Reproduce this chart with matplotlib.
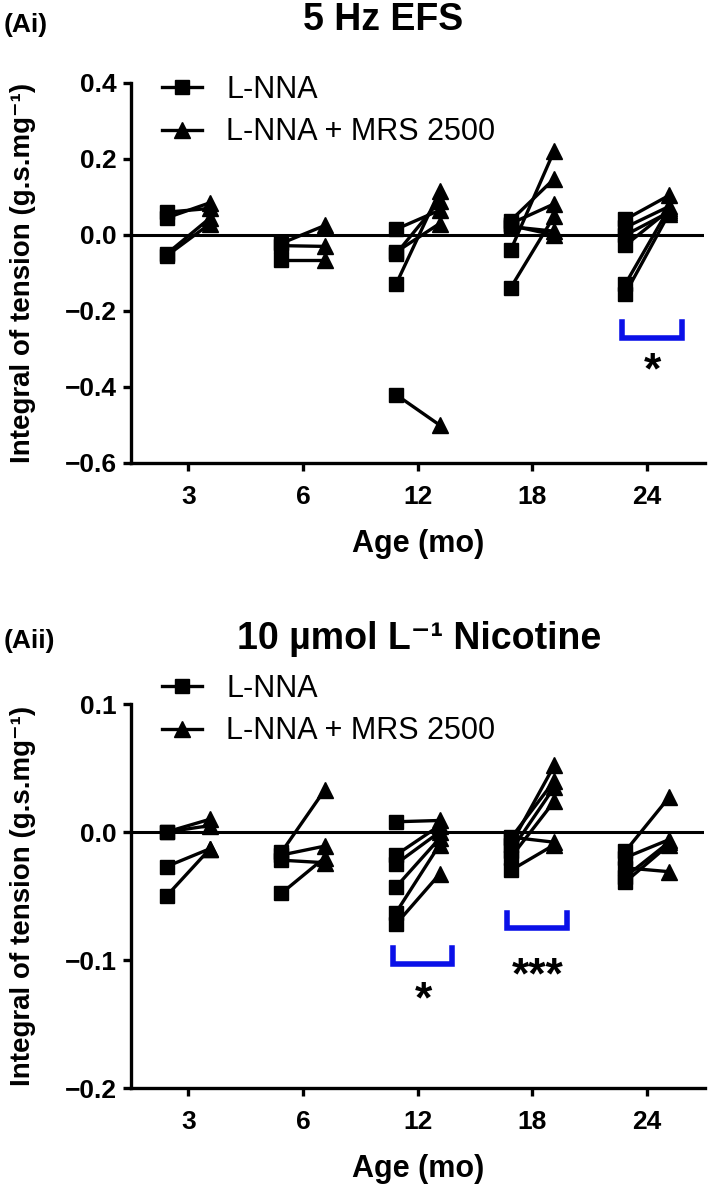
import matplotlib
matplotlib.use("Agg")
import matplotlib.pyplot as plt
from matplotlib.lines import Line2D

plt.rcParams['font.family'] = ['Liberation Sans', 'DejaVu Sans']

ages = ['3', '6', '12', '18', '24']

# 5 Hz EFS, one list per age, paired L-NNA / L-NNA + MRS 2500 values
efs_lnna = [
    [0.06, 0.045, -0.05, -0.055],
    [-0.022, -0.028, -0.065],
    [0.015, -0.045, -0.05, -0.13, -0.42],
    [0.038, 0.03, 0.022, 0.025, -0.04, -0.139],
    [0.041, 0.02, 0.0, -0.027, -0.129, -0.154],
]
efs_mrs = [
    [0.07, 0.085, 0.045, 0.03],
    [0.025, -0.03, -0.065],
    [0.065, 0.03, 0.09, 0.115, -0.5],
    [0.148, 0.082, 0.01, 0.0, 0.222, 0.05],
    [0.104, 0.075, 0.06, 0.065, 0.07, 0.056],
]

# 10 umol/L nicotine
nic_lnna = [
    [0.0, 0.0, -0.027, -0.05],
    [-0.016, -0.018, -0.022, -0.048],
    [0.008, -0.018, -0.025, -0.043, -0.063, -0.072],
    [-0.01, -0.005, -0.015, -0.02, -0.004, -0.03],
    [-0.015, -0.02, -0.028, -0.035, -0.039],
]
nic_mrs = [
    [0.01, 0.005, -0.013, -0.013],
    [0.033, -0.011, -0.024, -0.02],
    [0.009, 0.005, 0.0, -0.005, -0.01, -0.033],
    [0.052, 0.04, 0.035, 0.024, -0.008, -0.01],
    [0.027, -0.006, -0.031, -0.008, -0.01],
]

efs_ticks = [-0.6, -0.4, -0.2, 0.0, 0.2, 0.4]
nic_ticks = [-0.2, -0.1, 0.0, 0.1]

# significance brackets: (age index, top, bottom, stars, star y)
efs_sig = [(4, -0.23, -0.27, '*', -0.36)]
nic_sig = [(2, -0.091, -0.103, '*', -0.132), (3, -0.063, -0.075, '***', -0.113)]

W, H = 709, 1185
fig = plt.figure(figsize=(W / 100, H / 100), dpi=100)

ax1 = fig.add_axes([131 / W, 1 - 463 / H, 573.5 / W, 380 / H])
ax2 = fig.add_axes([131 / W, 1 - 1088 / H, 573.5 / W, 384 / H])

off = 0.19
lw = 2.4


def draw_panel(ax, lnna, mrs, ticks, sig, legend_top):
    for i in range(len(ages)):
        for a, b in zip(lnna[i], mrs[i]):
            ax.plot([i - off, i + off], [a, b], color='k', lw=lw, zorder=2)
        ax.plot([i - off] * len(lnna[i]), lnna[i], 's', color='k', ms=10.5, zorder=3)
        ax.plot([i + off] * len(mrs[i]), mrs[i], '^', color='k', ms=11, zorder=3)
    ax.axhline(0, color='k', lw=2.2, zorder=1)
    ax.set_xlim(-0.5, 4.5)
    ax.set_ylim(ticks[0], ticks[-1])
    ax.set_xticks(range(len(ages)))
    ax.set_xticklabels(ages)
    ax.set_yticks(ticks)
    ax.set_yticklabels([('%.1f' % t).replace('-', '\u2212') for t in ticks])
    for s in ['top', 'right']:
        ax.spines[s].set_visible(False)
    for s in ['left', 'bottom']:
        ax.spines[s].set_linewidth(2.4)
    ax.tick_params(width=2.4, length=6, labelsize=19, pad=4)
    ax.tick_params(axis='x', pad=10)
    for t in ax.get_xticklabels() + ax.get_yticklabels():
        t.set_fontweight('bold')
    ax.set_xlabel('Age (mo)', fontsize=22, fontweight='bold', labelpad=14)
    ax.set_ylabel('Integral of tension (g.s.mg\u207b\u00b9)', fontsize=20,
                  fontweight='bold')
    ax.yaxis.set_label_coords(-0.165, 0.5)

    for i, top, bot, stars, sy in sig:
        ax.plot([i - 0.22, i - 0.22, i + 0.3, i + 0.3], [top, bot, bot, top],
                color='#0a10e8', lw=4, solid_joinstyle='miter', zorder=3)
        ax.text(i + 0.05, sy, stars, ha='center', va='center', fontsize=32,
                fontweight='bold')

    handles = [Line2D([], [], color='k', lw=lw, marker='s', ms=10.5),
               Line2D([], [], color='k', lw=lw, marker='^', ms=11)]
    fig.legend(handles, ['L-NNA', 'L-NNA + MRS 2500'], loc='upper left',
               bbox_to_anchor=(162 / W, 1 - legend_top / H), frameon=False,
               borderpad=0, borderaxespad=0, handlelength=1.3,
               handletextpad=0.8, labelspacing=0.4,
               prop={'size': 22})


draw_panel(ax1, efs_lnna, efs_mrs, efs_ticks, efs_sig, 75)
draw_panel(ax2, nic_lnna, nic_mrs, nic_ticks, nic_sig, 674)

fig.text(383 / W, 1 - 20 / H, '5 Hz EFS', ha='center', va='center',
         fontsize=27, fontweight='bold')
fig.text(419 / W, 1 - 639 / H, '10 \u00b5mol L\u207b\u00b9 Nicotine', ha='center',
         va='center', fontsize=27, fontweight='bold')
fig.text(4 / W, 1 - 25 / H, '(Ai)', ha='left', va='center', fontsize=19,
         fontweight='bold')
fig.text(4 / W, 1 - 641 / H, '(Aii)', ha='left', va='center', fontsize=19,
         fontweight='bold')

fig.savefig('out.png', dpi=100)
